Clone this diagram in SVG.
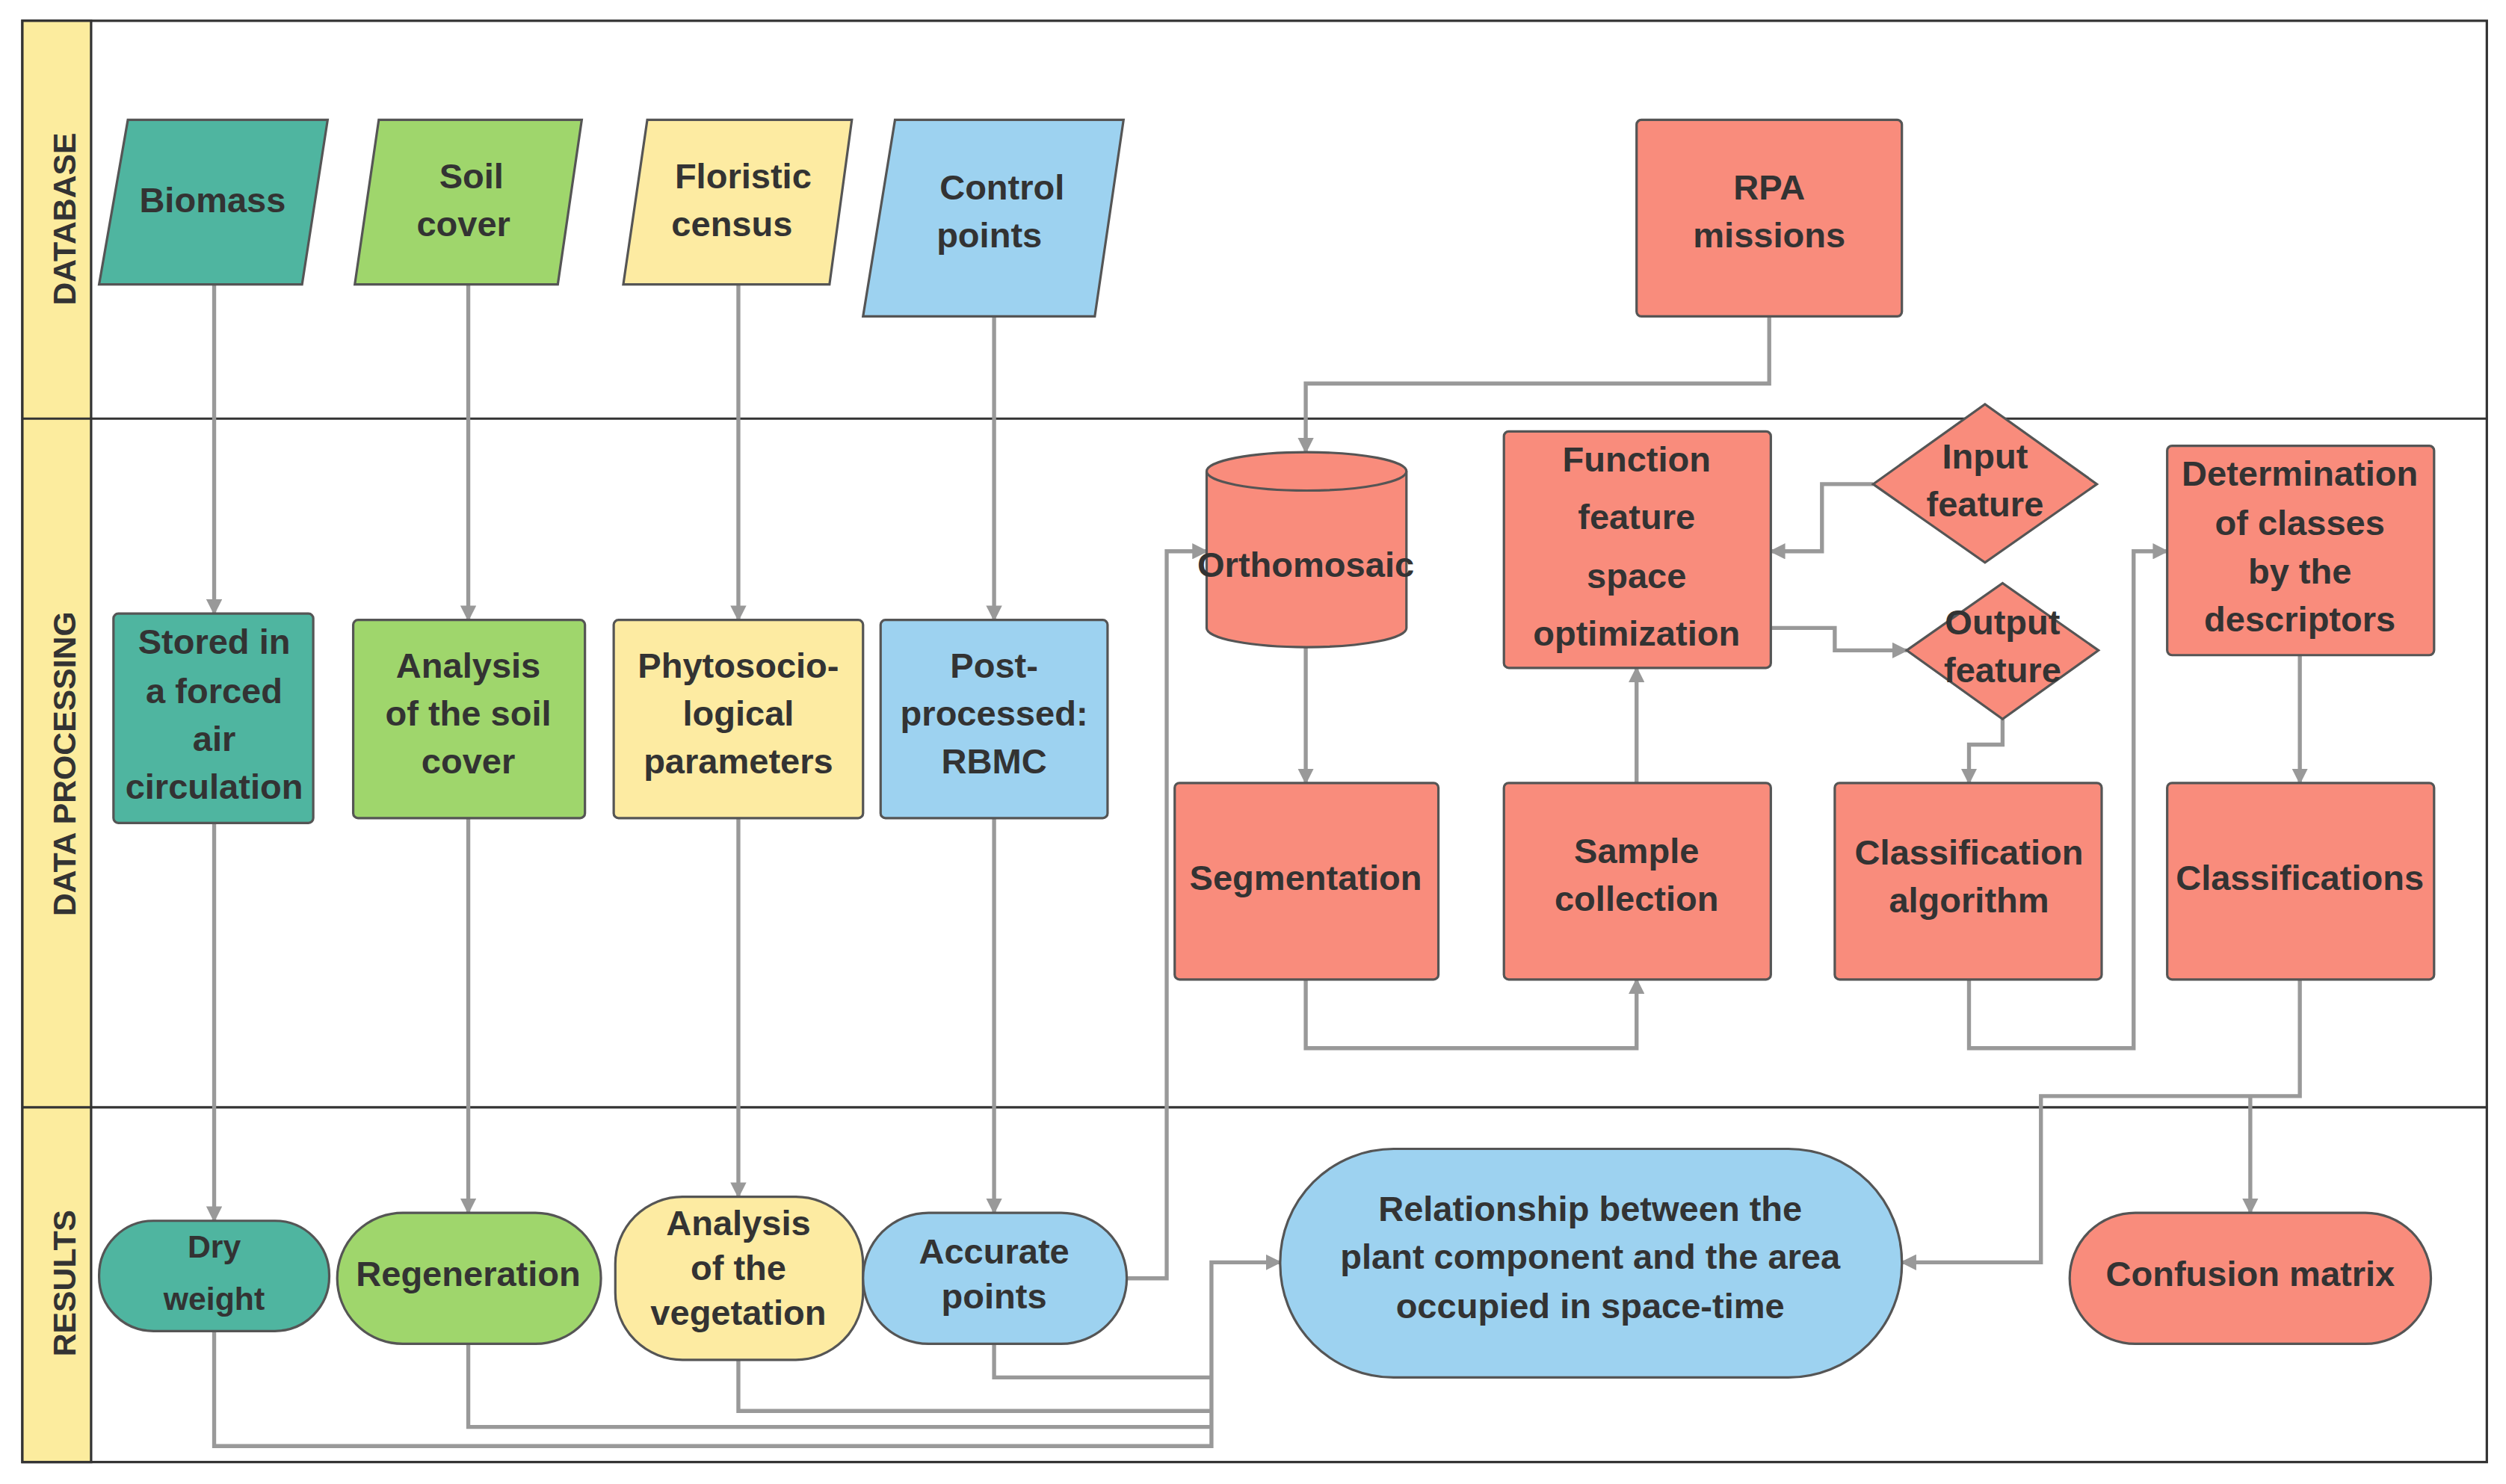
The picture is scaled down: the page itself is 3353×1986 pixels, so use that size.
<svg xmlns="http://www.w3.org/2000/svg" width="3353" height="1986" viewBox="0 0 3353 1986">
<defs>
<marker id="ah" markerWidth="10" markerHeight="10" refX="9" refY="5" orient="auto" markerUnits="userSpaceOnUse"><path d="M0,0 L10,5 L0,10 z" fill="#999"/></marker>
<style>
.t{font-family:"Liberation Sans",Arial,sans-serif;font-weight:bold;font-size:22px;fill:#333;text-anchor:middle}
.s{font-size:20px}
.lane{font-family:"Liberation Sans",Arial,sans-serif;font-weight:bold;font-size:20px;fill:#333;text-anchor:middle}
.n{stroke:#555;stroke-width:1.5}
.teal{fill:#4fb5a0}.green{fill:#9fd66c}.yel{fill:#fdeba2}.blue{fill:#9dd2f0}.red{fill:#f98c7c}
.c{fill:none;stroke:#999;stroke-width:2.5}
</style>
</defs>
<rect width="3353" height="1986" fill="#fff"/>
<g transform="scale(2.1384)">
<g id="lanes">
<rect x="14" y="13" width="1542" height="902" fill="#fff" stroke="#333" stroke-width="1.5"/>
<rect x="14" y="13" width="43" height="902" fill="#fcec9e" stroke="#333" stroke-width="1.5"/>
<line x1="14" y1="262" x2="1556" y2="262" stroke="#333" stroke-width="1.5"/>
<line x1="14" y1="693" x2="1556" y2="693" stroke="#333" stroke-width="1.5"/>
<text class="lane" transform="translate(47,137) rotate(-90)">DATABASE</text>
<text class="lane" transform="translate(47,478) rotate(-90)">DATA PROCESSING</text>
<text class="lane" transform="translate(47,803) rotate(-90)">RESULTS</text>
</g>
<g id="connectors">
<path class="c" d="M134,178V384" marker-end="url(#ah)"/>
<path class="c" d="M293,178V388" marker-end="url(#ah)"/>
<path class="c" d="M462,178V388" marker-end="url(#ah)"/>
<path class="c" d="M622,198V388" marker-end="url(#ah)"/>
<path class="c" d="M134,515V764" marker-end="url(#ah)"/>
<path class="c" d="M293,512V759" marker-end="url(#ah)"/>
<path class="c" d="M462,512V749" marker-end="url(#ah)"/>
<path class="c" d="M622,512V759" marker-end="url(#ah)"/>
<path class="c" d="M1107,198V240H817V283" marker-end="url(#ah)"/>
<path class="c" d="M705,800H730V345H755" marker-end="url(#ah)"/>
<path class="c" d="M817,405V490" marker-end="url(#ah)"/>
<path class="c" d="M817,613V656H1024V613" marker-end="url(#ah)"/>
<path class="c" d="M1024,490V418" marker-end="url(#ah)"/>
<path class="c" d="M1172,303H1140V345H1108" marker-end="url(#ah)"/>
<path class="c" d="M1108,393H1148V407H1193" marker-end="url(#ah)"/>
<path class="c" d="M1253,450V466H1232V490" marker-end="url(#ah)"/>
<path class="c" d="M1232,613V656H1335V345H1356" marker-end="url(#ah)"/>
<path class="c" d="M1439,410V490" marker-end="url(#ah)"/>
<path class="c" d="M1439,613V686H1277V790H1190" marker-end="url(#ah)"/>
<path class="c" d="M1408,686V759" marker-end="url(#ah)"/>
<path class="c" d="M134,833V905H758V790H801" marker-end="url(#ah)"/>
<path class="c" d="M293,841V893H758"/>
<path class="c" d="M462,851V883H758"/>
<path class="c" d="M622,841V862H758"/>
</g>
<g id="biomass"><path class="n teal" d="M80,75H205L189,178H62Z"/><text class="t" x="133" y="133">Biomass</text></g>
<g id="soilcover"><path class="n green" d="M237,75H364L349,178H222Z"/><text class="t" x="295" y="118">Soil</text><text class="t" x="290" y="148">cover</text></g>
<g id="floristic"><path class="n yel" d="M405,75H533L519,178H390Z"/><text class="t" x="465" y="118">Floristic</text><text class="t" x="458" y="148">census</text></g>
<g id="control"><path class="n blue" d="M560,75H703L685,198H540Z"/><text class="t" x="627" y="125">Control</text><text class="t" x="619" y="155">points</text></g>
<g id="rpa"><rect class="n red" x="1024" y="75" width="166" height="123" rx="3"/><text class="t" x="1107" y="125">RPA</text><text class="t" x="1107" y="155">missions</text></g>
<g id="stored"><rect class="n teal" x="71" y="384" width="125" height="131" rx="3"/><text class="t" x="134" y="409">Stored in</text><text class="t" x="134" y="440">a forced</text><text class="t" x="134" y="470">air</text><text class="t" x="134" y="500">circulation</text></g>
<g id="analysissoil"><rect class="n green" x="221" y="388" width="145" height="124" rx="3"/><text class="t" x="293" y="424">Analysis</text><text class="t" x="293" y="454">of the soil</text><text class="t" x="293" y="484">cover</text></g>
<g id="phyto"><rect class="n yel" x="384" y="388" width="156" height="124" rx="3"/><text class="t" x="462" y="424">Phytosocio-</text><text class="t" x="462" y="454">logical</text><text class="t" x="462" y="484">parameters</text></g>
<g id="post"><rect class="n blue" x="551" y="388" width="142" height="124" rx="3"/><text class="t" x="622" y="424">Post-</text><text class="t" x="622" y="454">processed:</text><text class="t" x="622" y="484">RBMC</text></g>
<g id="ortho"><path class="n red" d="M755,295V393A62.5,12 0 0 0 880,393V295"/><ellipse class="n red" cx="817.5" cy="295" rx="62.5" ry="12"/><text class="t" x="817" y="361">Orthomosaic</text></g>
<g id="function"><rect class="n red" x="941" y="270" width="167" height="148" rx="3"/><text class="t" x="1024" y="295">Function</text><text class="t" x="1024" y="331">feature</text><text class="t" x="1024" y="368">space</text><text class="t" x="1024" y="404">optimization</text></g>
<g id="input"><path class="n red" d="M1172,303L1242,253L1312,303L1242,352Z"/><text class="t" x="1242" y="293">Input</text><text class="t" x="1242" y="323">feature</text></g>
<g id="output"><path class="n red" d="M1193,407L1253,365L1313,407L1253,450Z"/><text class="t" x="1253" y="397">Output</text><text class="t" x="1253" y="427">feature</text></g>
<g id="determination"><rect class="n red" x="1356" y="279" width="167" height="131" rx="3"/><text class="t" x="1439" y="304">Determination</text><text class="t" x="1439" y="335">of classes</text><text class="t" x="1439" y="365">by the</text><text class="t" x="1439" y="395">descriptors</text></g>
<g id="segmentation"><rect class="n red" x="735" y="490" width="165" height="123" rx="3"/><text class="t" x="817" y="557">Segmentation</text></g>
<g id="sample"><rect class="n red" x="941" y="490" width="167" height="123" rx="3"/><text class="t" x="1024" y="540">Sample</text><text class="t" x="1024" y="570">collection</text></g>
<g id="classalg"><rect class="n red" x="1148" y="490" width="167" height="123" rx="3"/><text class="t" x="1232" y="541">Classification</text><text class="t" x="1232" y="571">algorithm</text></g>
<g id="classifications"><rect class="n red" x="1356" y="490" width="167" height="123" rx="3"/><text class="t" x="1439" y="557">Classifications</text></g>
<g id="dry"><rect class="n teal" x="62" y="764" width="144" height="69" rx="34"/><text class="t s" x="134" y="787">Dry</text><text class="t s" x="134" y="820">weight</text></g>
<g id="regen"><rect class="n green" x="211" y="759" width="165" height="82" rx="41"/><text class="t" x="293" y="805">Regeneration</text></g>
<g id="analysisveg"><rect class="n yel" x="385" y="749" width="155" height="102" rx="42"/><text class="t" x="462" y="773">Analysis</text><text class="t" x="462" y="801">of the</text><text class="t" x="462" y="829">vegetation</text></g>
<g id="accurate"><rect class="n blue" x="540" y="759" width="165" height="82" rx="41"/><text class="t" x="622" y="791">Accurate</text><text class="t" x="622" y="819">points</text></g>
<g id="relationship"><rect class="n blue" x="801" y="719" width="389" height="143" rx="71"/><text class="t" x="995" y="764">Relationship between the</text><text class="t" x="995" y="794">plant component and the area</text><text class="t" x="995" y="825">occupied in space-time</text></g>
<g id="confusion"><rect class="n red" x="1295" y="759" width="226" height="82" rx="41"/><text class="t" x="1408" y="805">Confusion matrix</text></g>
</g>
</svg>
